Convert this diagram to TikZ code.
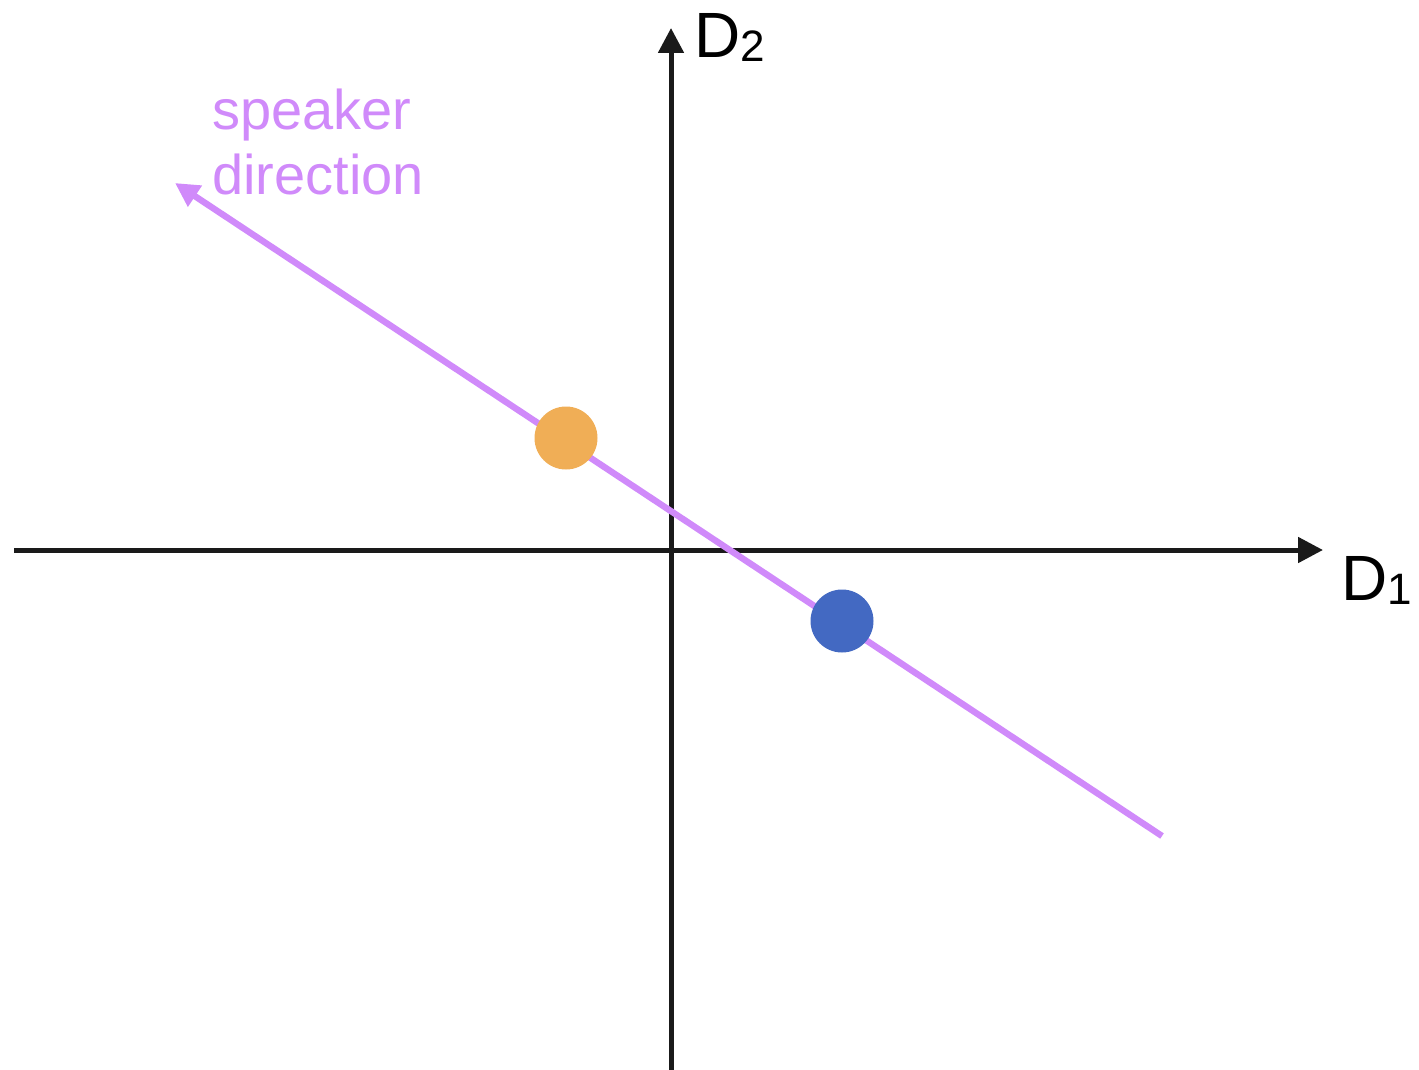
\documentclass[tikz,border=0pt]{standalone}
\usepackage{fontspec}
\setmainfont{Liberation Sans}
\usepackage{tikz}
\usetikzlibrary{arrows.meta}
\definecolor{speaker}{HTML}{D08AFA}
\definecolor{dotorange}{HTML}{F0AE56}
\definecolor{dotblue}{HTML}{4369C2}
\definecolor{axisblack}{HTML}{1A1A1A}

\begin{document}
\begin{tikzpicture}[
  x=0.5pt, y=-0.5pt,
  axis/.style={draw=axisblack, line width=2.5pt,
    -{Triangle[length=12.5pt, width=12.5pt]}},
  speakerline/.style={draw=speaker, line width=3.2pt,
    -{Triangle[length=12pt, width=12pt]}},
  dot/.style={circle, minimum size=31.5pt, inner sep=0pt},
  axislabel/.style={inner sep=0pt, font=\fontsize{32}{36}\selectfont},
  dirlabel/.style={inner sep=0pt, align=left, text=speaker,
    font=\fontsize{28}{32.5}\selectfont}
]
  \useasboundingbox (0,0) rectangle (1419,1070);

  \coordinate (xstart) at (14,550);
  \coordinate (xend) at (1323,550);
  \coordinate (ystart) at (671,1070);
  \coordinate (yend) at (671,28);
  \coordinate (dirstart) at (1162,836);
  \coordinate (dirend) at (175,183);

  \draw[axis] (xstart) -- (xend);
  \draw[axis] (ystart) -- (yend);
  \draw[speakerline] (dirstart) -- (dirend);

  \node[dot, fill=dotorange] (orange) at (566,438) {};
  \node[dot, fill=dotblue] (blue) at (842,621) {};

  \node[axislabel, anchor=base west] (dtwo) at (694,58)
    {D{\fontsize{22}{24}\selectfont\raisebox{-2pt}{2}}};
  \node[axislabel, anchor=base west] (done) at (1341,600)
    {D{\fontsize{22}{24}\selectfont\raisebox{-2pt}{1}}};
  \node[dirlabel, anchor=north west] (spk) at (212,89)
    {speaker\\direction};
\end{tikzpicture}
\end{document}
